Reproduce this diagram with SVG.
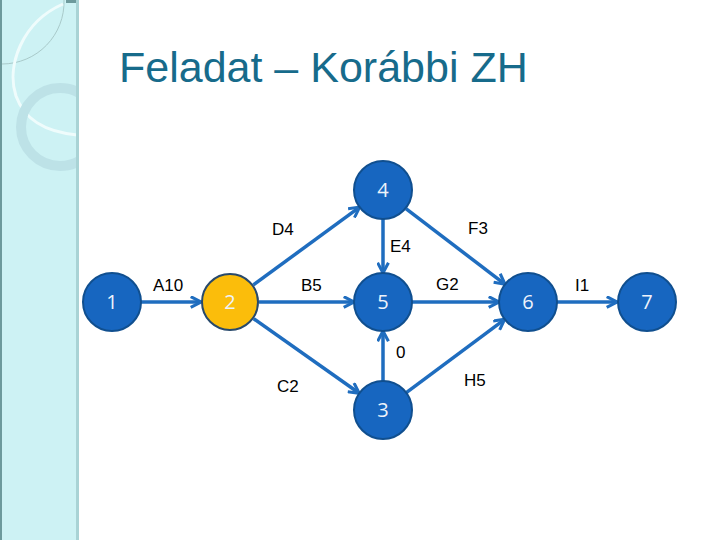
<svg xmlns="http://www.w3.org/2000/svg" width="720" height="540" viewBox="0 0 720 540">
<style>
.title{font-family:"Liberation Sans",Arial,sans-serif;font-size:43px;fill:#176b8b}
.lbl{font-family:"Liberation Sans",Arial,sans-serif;font-size:17px;fill:#000}
.num{font-family:"Open Sans","Liberation Sans",sans-serif;font-size:20px;fill:#eef3fb;text-anchor:middle}
.node{fill:#1766c0;stroke:#104f8f;stroke-width:2}
.hl{fill:#fbbd0b;stroke:#28496b;stroke-width:2}
.edge{stroke:#1f6dbf;stroke-width:3.5;fill:none;marker-end:url(#arr)}
</style>
<defs>
<marker id="arr" markerUnits="userSpaceOnUse" viewBox="0 0 12 12" refX="10.5" refY="6" markerWidth="13" markerHeight="13" orient="auto">
<path d="M1,1 L10.5,6 L1,11" fill="none" stroke="#1f6dbf" stroke-width="2.8" stroke-linejoin="miter"/>
</marker>
<clipPath id="panel"><rect x="0" y="0" width="77" height="540"/></clipPath>
</defs>
<rect width="720" height="540" fill="#fff"/>
<g id="sidebar">
<rect x="0" y="0" width="78" height="540" fill="#cdf2f4"/>
<g clip-path="url(#panel)">
<path d="M64,0 A62,62 0 0 1 2,64" fill="none" stroke="#a9caca" stroke-width="1"/>
<path d="M63,4 C22,22 6,66 16,96 C24,118 42,132 78,135" fill="none" stroke="#effcfc" stroke-width="3"/>
<circle cx="60" cy="127" r="39" fill="none" stroke="#bde2e7" stroke-width="10"/>
</g>
<rect x="0" y="0" width="2" height="540" fill="#6d9a9c"/>
<rect x="76" y="0" width="3" height="540" fill="#a9d3d5"/>
<rect x="66" y="0" width="10" height="3" fill="#6d9a9c"/>
</g>
<text class="title" x="119" y="82">Feladat – Korábbi ZH</text>
<g id="connectors">
<line class="edge" x1="141" y1="302" x2="201" y2="302"/>
<line class="edge" x1="253.4" y1="284.9" x2="359.6" y2="207.1"/>
<line class="edge" x1="259" y1="302" x2="354" y2="302"/>
<line class="edge" x1="253.7" y1="318.7" x2="359.3" y2="393.3"/>
<line class="edge" x1="383" y1="219" x2="383" y2="273"/>
<line class="edge" x1="405.9" y1="208.7" x2="505.1" y2="284.3"/>
<line class="edge" x1="412" y1="302" x2="499" y2="302"/>
<line class="edge" x1="383" y1="381" x2="383" y2="331"/>
<line class="edge" x1="406.3" y1="392.7" x2="504.7" y2="319.3"/>
<line class="edge" x1="557" y1="302" x2="617" y2="302"/>
<text class="lbl" x="153" y="291">A10</text>
<text class="lbl" x="272" y="235">D4</text>
<text class="lbl" x="301" y="291">B5</text>
<text class="lbl" x="277" y="392">C2</text>
<text class="lbl" x="390" y="252">E4</text>
<text class="lbl" x="468" y="234">F3</text>
<text class="lbl" x="436" y="290">G2</text>
<text class="lbl" x="396" y="358">0</text>
<text class="lbl" x="464" y="386">H5</text>
<text class="lbl" x="575" y="291">I1</text>
</g>
<g id="n1"><circle class="node" cx="112" cy="302" r="29"/><text class="num" x="112" y="309">1</text></g>
<g id="n2"><circle class="hl" cx="230" cy="302" r="28"/><text class="num" x="230" y="309">2</text></g>
<g id="n4"><circle class="node" cx="383" cy="190" r="29"/><text class="num" x="383" y="197">4</text></g>
<g id="n5"><circle class="node" cx="383" cy="302" r="29"/><text class="num" x="383" y="309">5</text></g>
<g id="n6"><circle class="node" cx="528" cy="302" r="29"/><text class="num" x="528" y="309">6</text></g>
<g id="n7"><circle class="node" cx="647" cy="302" r="29"/><text class="num" x="647" y="309">7</text></g>
<g id="n3"><circle class="node" cx="383" cy="410" r="29"/><text class="num" x="383" y="417">3</text></g>
</svg>
